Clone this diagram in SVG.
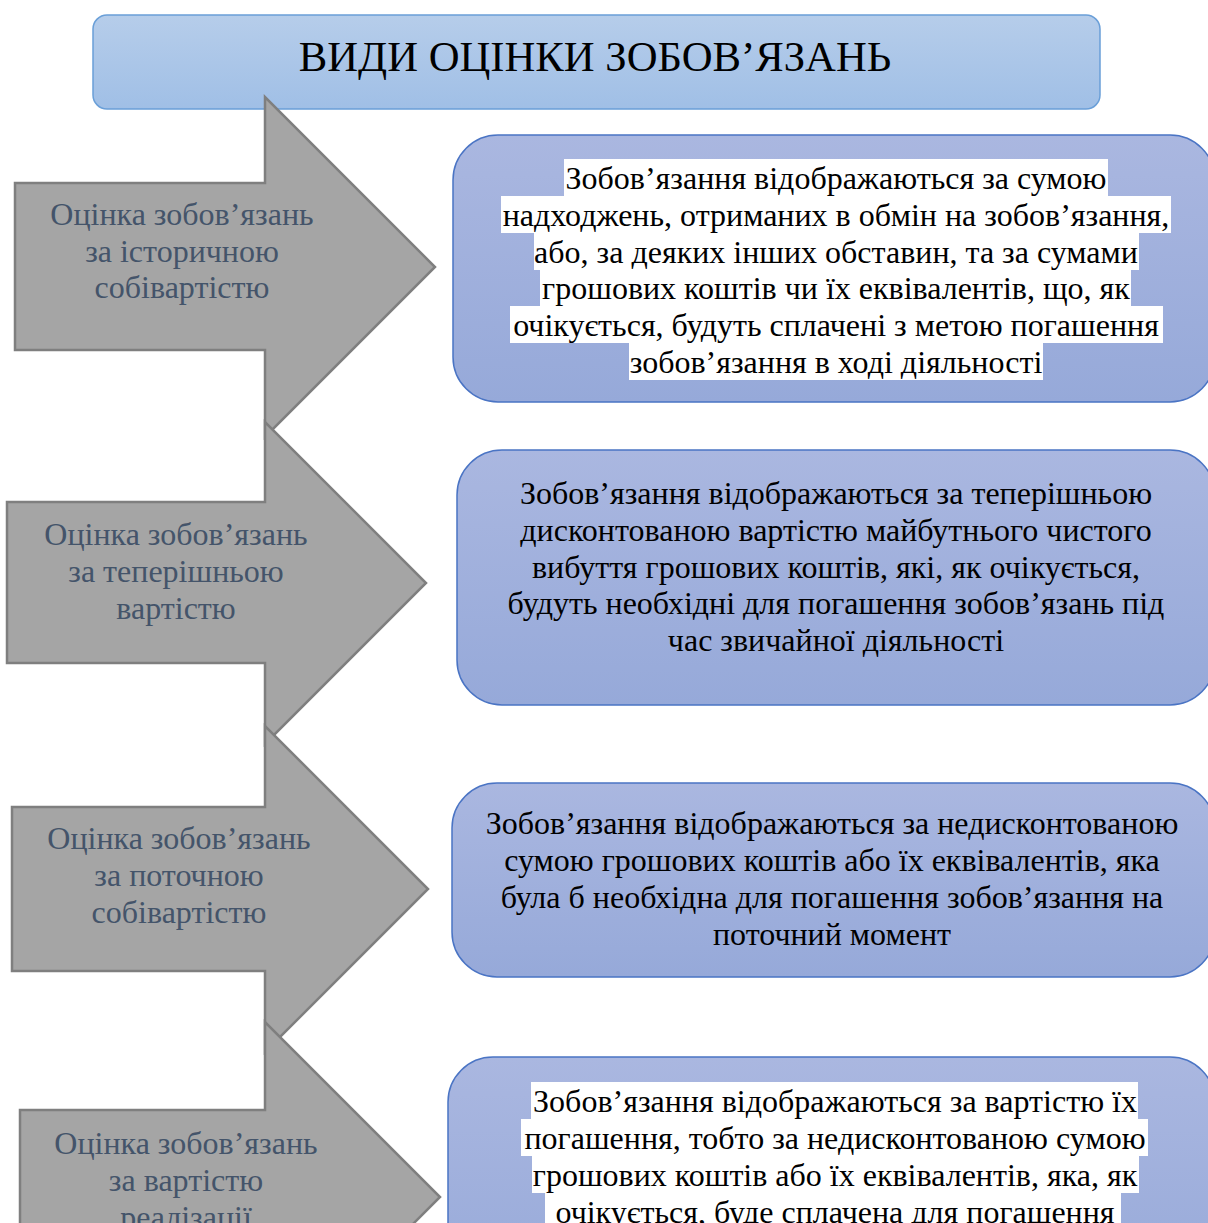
<svg xmlns="http://www.w3.org/2000/svg" width="1208" height="1223" viewBox="0 0 1208 1223">
<defs>
<linearGradient id="gTitle" x1="0" y1="0" x2="0" y2="1">
<stop offset="0" stop-color="#b6cdea"/>
<stop offset="1" stop-color="#a0bfe6"/>
</linearGradient>
<linearGradient id="gBox" x1="0" y1="0" x2="0" y2="1">
<stop offset="0" stop-color="#aab7e0"/>
<stop offset="1" stop-color="#96a9d9"/>
</linearGradient>
<style>
.title{fill:url(#gTitle);stroke:#6a9fd8;stroke-width:1.5}
.ttl{font-family:"Liberation Serif","Times New Roman",serif;font-size:42.7px;fill:#000;text-anchor:middle}
.arrow{fill:#a5a5a5;stroke:#7f7f7f;stroke-width:2.5;stroke-linejoin:miter}
.lbl{font-family:"Liberation Serif","Times New Roman",serif;font-size:32px;fill:#44546a;text-anchor:middle}
.box{fill:url(#gBox);stroke:#4a74c4;stroke-width:1.5}
.txt{font-family:"Liberation Serif","Times New Roman",serif;font-size:32px;fill:#000;text-anchor:middle}
.hl{fill:#fff}
</style>
</defs>

<g id="title">
<rect class="title" x="93" y="15" width="1007" height="94" rx="14"/>
<text class="ttl" x="595" y="71">ВИДИ ОЦІНКИ ЗОБОВ’ЯЗАНЬ</text>
</g>

<g id="arrow1">
<path class="arrow" d="M15,183 H265 V97 L435,267 L265,437 V350 H15 Z"/>
<text class="lbl" x="182" y="225">Оцінка зобов’язань</text>
<text class="lbl" x="182" y="262">за історичною</text>
<text class="lbl" x="182" y="298">собівартістю</text>
</g>

<g id="arrow2">
<path class="arrow" d="M7,502 H265 V422 L426,583 L265,744 V663 H7 Z"/>
<text class="lbl" x="176" y="545">Оцінка зобов’язань</text>
<text class="lbl" x="176" y="582">за теперішньою</text>
<text class="lbl" x="176" y="619">вартістю</text>
</g>

<g id="arrow3">
<path class="arrow" d="M12,807 H265 V726 L428,889 L265,1052 V971 H12 Z"/>
<text class="lbl" x="179" y="849">Оцінка зобов’язань</text>
<text class="lbl" x="179" y="886">за поточною</text>
<text class="lbl" x="179" y="923">собівартістю</text>
</g>

<g id="arrow4">
<path class="arrow" d="M20,1110 H265 V1022 L440,1197 L265,1372 V1284 H20 Z"/>
<text class="lbl" x="186" y="1154">Оцінка зобов’язань</text>
<text class="lbl" x="186" y="1191">за вартістю</text>
<text class="lbl" x="186" y="1228">реалізації</text>
</g>

<g id="box1">
<rect class="box" x="453" y="135" width="762" height="267" rx="45"/>
<rect class="hl" x="564" y="159" width="544" height="37"/>
<rect class="hl" x="501" y="196" width="670" height="37"/>
<rect class="hl" x="534" y="233" width="605" height="37"/>
<rect class="hl" x="540" y="269" width="591" height="37"/>
<rect class="hl" x="510" y="306" width="653" height="37"/>
<rect class="hl" x="629" y="343" width="414" height="37"/>
<text class="txt" x="836" y="189">Зобов’язання відображаються за сумою</text>
<text class="txt" x="836" y="226">надходжень, отриманих в обмін на зобов’язання,</text>
<text class="txt" x="836" y="263">або, за деяких інших обставин, та за сумами</text>
<text class="txt" x="836" y="299">грошових коштів чи їх еквівалентів, що, як</text>
<text class="txt" x="836" y="336">очікується, будуть сплачені з метою погашення</text>
<text class="txt" x="836" y="373">зобов’язання в ході діяльності</text>
</g>

<g id="box2">
<rect class="box" x="457" y="450" width="758" height="255" rx="45"/>
<text class="txt" x="836" y="504">Зобов’язання відображаються за теперішньою</text>
<text class="txt" x="836" y="541">дисконтованою вартістю майбутнього чистого</text>
<text class="txt" x="836" y="578">вибуття грошових коштів, які, як очікується,</text>
<text class="txt" x="836" y="614">будуть необхідні для погашення зобов’язань під</text>
<text class="txt" x="836" y="651">час звичайної діяльності</text>
</g>

<g id="box3">
<rect class="box" x="452" y="783" width="763" height="194" rx="45"/>
<text class="txt" x="832" y="834">Зобов’язання відображаються за недисконтованою</text>
<text class="txt" x="832" y="871">сумою грошових коштів або їх еквівалентів, яка</text>
<text class="txt" x="832" y="908">була б необхідна для погашення зобов’язання на</text>
<text class="txt" x="832" y="945">поточний момент</text>
</g>

<g id="box4">
<rect class="box" x="448" y="1057" width="767" height="250" rx="45"/>
<rect class="hl" x="531" y="1082" width="607" height="37"/>
<rect class="hl" x="521" y="1119" width="627" height="37"/>
<rect class="hl" x="532" y="1156" width="607" height="37"/>
<rect class="hl" x="545" y="1193" width="576" height="37"/>
<text class="txt" x="835" y="1112">Зобов’язання відображаються за вартістю їх</text>
<text class="txt" x="835" y="1149">погашення, тобто за недисконтованою сумою</text>
<text class="txt" x="835" y="1186">грошових коштів або їх еквівалентів, яка, як</text>
<text class="txt" x="835" y="1223">очікується, буде сплачена для погашення</text>
</g>

<g id="connectors"></g>
</svg>
